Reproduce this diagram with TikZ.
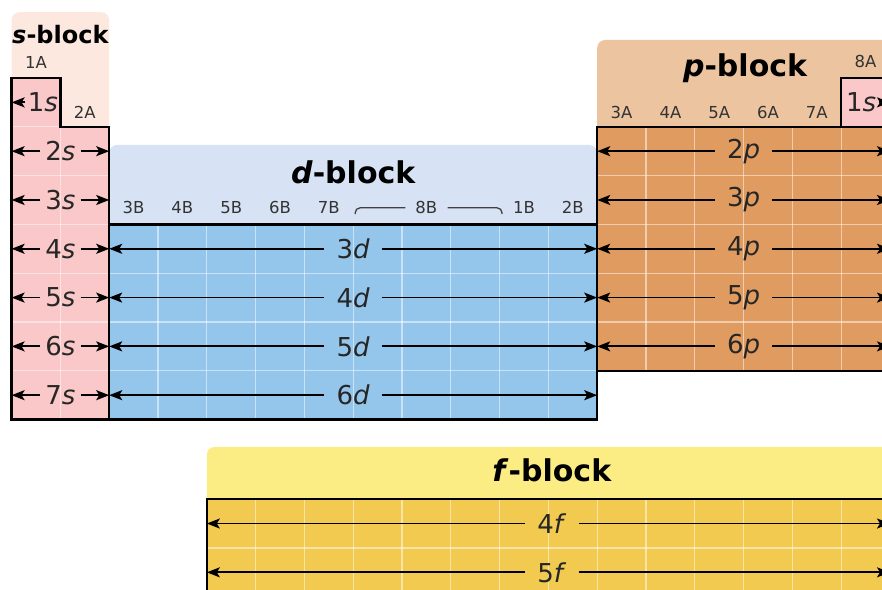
\documentclass[tikz,border=0pt]{standalone}
\usepackage{fontspec}
\setmainfont{DejaVu Sans}
\usetikzlibrary{arrows.meta}

\definecolor{sfill}{HTML}{FAC8C8}
\definecolor{shead}{HTML}{FCE8DE}
\definecolor{dfill}{HTML}{94C5EB}
\definecolor{dhead}{HTML}{D7E3F4}
\definecolor{pfill}{HTML}{E09B61}
\definecolor{phead}{HTML}{ECC49F}
\definecolor{ffill}{HTML}{F2CA50}
\definecolor{fhead}{HTML}{FBEC84}

\tikzset{
  blockline/.style={draw=black, line width=2.4pt},
  gridline/.style={white, opacity=0.5, line width=1.3pt},
  orbarrow/.style={-{Stealth[length=13pt,width=10pt,inset=3pt]}, line width=1.8pt},
  orblabel/.style={font=\fontsize{26}{26}\selectfont, text=black!85, inner xsep=12pt, inner ysep=0pt},
  grouplabel/.style={font=\fontsize{16.5}{17}\selectfont, text=black!80, inner sep=0pt},
  blocklabel/.style={font=\fontsize{30}{30}\selectfont\bfseries, inner sep=0pt},
  header/.style={rounded corners=8pt},
}

\begin{document}
\begin{tikzpicture}[x=48.8pt, y=-48.8pt]
  \useasboundingbox (-0.2377,-1.598) rectangle (17.836,10.492);
  \clip (-0.2377,-1.598) rectangle (17.836,10.492);

  % headers
  \fill[shead, header] (0,-1.35) rectangle (2,1.3);
  \fill[dhead, header] (2,1.37) rectangle (12,3.3);
  \fill[phead, header] (12,-0.78) rectangle (18.6,1.3);
  \fill[fhead, header] (4,7.56) rectangle (18.6,8.9);

  % blocks
  \fill[sfill] (0,0) -- (1,0) -- (1,1) -- (2,1) -- (2,7) -- (0,7) -- cycle;
  \fill[dfill] (2,3) rectangle (12,7);
  \fill[pfill] (12,1) rectangle (18,6);
  \fill[sfill] (17,0) rectangle (18,1);
  \fill[ffill] (4,8.63) rectangle (18,10.63);

  % cell grid
  \foreach \y in {1,...,6} \draw[gridline] (0,\y) -- (2,\y);
  \draw[gridline] (1,1) -- (1,7);
  \foreach \x in {3,...,11} \draw[gridline] (\x,3) -- (\x,7);
  \foreach \y in {4,5,6} \draw[gridline] (2,\y) -- (12,\y);
  \foreach \x in {13,...,17} \draw[gridline] (\x,1) -- (\x,6);
  \foreach \y in {2,...,5} \draw[gridline] (12,\y) -- (18,\y);
  \foreach \x in {5,...,17} \draw[gridline] (\x,8.63) -- (\x,10.63);
  \draw[gridline] (4,9.63) -- (18,9.63);

  % outlines
  \draw[blockline] (0,0) -- (1,0) -- (1,1) -- (2,1) -- (2,7) -- (0,7) -- cycle;
  \draw[blockline] (2,3) rectangle (12,7);
  \draw[blockline] (12,1) rectangle (18,6);
  \draw[blockline] (17,1) -- (17,0) -- (18,0) -- (18,1);
  \draw[blockline] (4,8.63) rectangle (18,10.63);

  % block names
  \node[blocklabel, font=\fontsize{24}{24}\selectfont\bfseries] (sname) at (1,-0.88) {\textit{s}-block};
  \node[blocklabel] (dname) at (7,1.93) {\textit{d}-block};
  \node[blocklabel] (pname) at (15.03,-0.2) {\textit{p}-block};
  \node[blocklabel] (fname) at (11.07,8.03) {\textit{f}-block};

  % groups
  \node[grouplabel] (g1A) at (0.5,-0.31) {1A};
  \node[grouplabel] (g2A) at (1.5,0.70) {2A};
  \foreach \g [count=\i from 3] in {3B,4B,5B,6B,7B}
    \node[grouplabel] (g\g) at (\i-0.5,2.66) {\g};
  \node[grouplabel, inner xsep=10pt] (g8B) at (8.5,2.66) {8B};
  \node[grouplabel] (g1B) at (10.5,2.66) {1B};
  \node[grouplabel] (g2B) at (11.5,2.66) {2B};
  \foreach \g [count=\i from 13] in {3A,4A,5A,6A,7A}
    \node[grouplabel] (g\g) at (\i-0.5,0.70) {\g};
  \node[grouplabel] (g8A) at (17.5,-0.33) {8A};
  \coordinate (b8l) at (7.04,2.79);
  \coordinate (b8r) at (10.05,2.79);
  \draw[line width=1.3pt, black!75, rounded corners=5pt] (b8l) |- (g8B.west);
  \draw[line width=1.3pt, black!75, rounded corners=5pt] (b8r) |- (g8B.east);

  % orbitals
  \node[orblabel, inner xsep=3pt] (s1) at (0.64,0.5) {1\textit{s}};
  \coordinate (sl1) at (0,0.5);
  \draw[orbarrow] (s1) -- (sl1);
  \node[orblabel, inner xsep=3pt] (he1) at (17.41,0.5) {1\textit{s}};
  \coordinate (her1) at (18,0.5);
  \draw[orbarrow] (he1) -- (her1);
  \foreach \r in {2,...,7} {
    \node[orblabel, inner xsep=5pt] (s\r) at (1,\r-0.5) {\r\textit{s}};
    \coordinate (sl\r) at (0,\r-0.5);
    \coordinate (sr\r) at (2,\r-0.5);
    \draw[orbarrow] (s\r) -- (sl\r);
    \draw[orbarrow] (s\r) -- (sr\r);
  }
  \foreach \r/\n in {4/3,5/4,6/5,7/6} {
    \node[orblabel] (d\n) at (7,\r-0.5) {\n\textit{d}};
    \coordinate (dl\n) at (2,\r-0.5);
    \coordinate (dr\n) at (12,\r-0.5);
    \draw[orbarrow] (d\n) -- (dl\n);
    \draw[orbarrow] (d\n) -- (dr\n);
  }
  \foreach \n in {2,...,6} {
    \node[orblabel] (p\n) at (15,\n-0.5) {\n\textit{p}};
    \coordinate (pl\n) at (12,\n-0.5);
    \coordinate (pr\n) at (18,\n-0.5);
    \draw[orbarrow] (p\n) -- (pl\n);
    \draw[orbarrow] (p\n) -- (pr\n);
  }
  \foreach \r/\n in {0/4,1/5} {
    \node[orblabel] (f\n) at (11.07,9.13+\r) {\n\textit{f}};
    \coordinate (fl\n) at (4,9.13+\r);
    \coordinate (fr\n) at (18,9.13+\r);
    \draw[orbarrow] (f\n) -- (fl\n);
    \draw[orbarrow] (f\n) -- (fr\n);
  }
\end{tikzpicture}
\end{document}
